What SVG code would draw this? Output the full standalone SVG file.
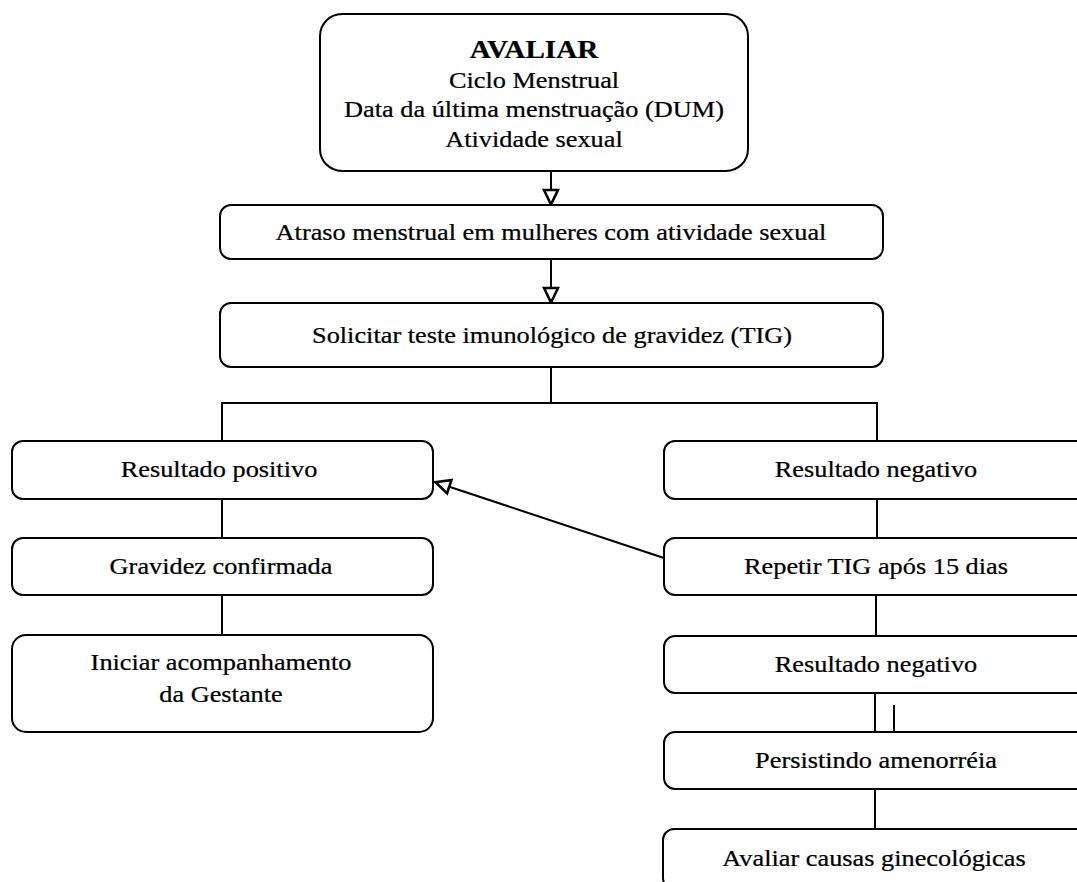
<svg xmlns="http://www.w3.org/2000/svg" width="1077" height="882" viewBox="0 0 1077 882">
<style>
.box{fill:#fff;stroke:#000;stroke-width:2}
.t{font-family:"Liberation Serif","Times New Roman",serif;font-size:23.5px;fill:#000;text-anchor:middle;stroke:#000;stroke-width:0.25}
.b{font-weight:bold;font-size:26px}
.c{fill:none;stroke:#000;stroke-width:2}
</style>
<defs>
<marker id="arr" viewBox="0 0 18 18" markerWidth="18" markerHeight="18" refX="17" refY="9" orient="auto" markerUnits="userSpaceOnUse">
<path d="M2,2 L16.5,9 L2,16 z" fill="#fff" stroke="#000" stroke-width="2.6" stroke-linejoin="miter"/>
</marker>
</defs>
<rect width="1077" height="882" fill="#fff"/>
<g id="connectors">
<line class="c" x1="551" y1="171" x2="551" y2="205" marker-end="url(#arr)"/>
<line class="c" x1="551" y1="259" x2="551" y2="303" marker-end="url(#arr)"/>
<polyline class="c" points="551,367 551,403"/>
<polyline class="c" points="222,441 222,403 877,403 877,441"/>
<line class="c" x1="222" y1="499" x2="222" y2="538"/>
<line class="c" x1="222" y1="595" x2="222" y2="635"/>
<line class="c" x1="877" y1="499" x2="877" y2="538"/>
<line class="c" x1="876" y1="595" x2="876" y2="636"/>
<line class="c" x1="875" y1="693" x2="875" y2="732"/>
<line class="c" x1="894" y1="705" x2="894" y2="732"/>
<line class="c" x1="875" y1="789" x2="875" y2="829"/>
<line class="c" x1="664" y1="558" x2="435" y2="482" marker-end="url(#arr)"/>
</g>
<g id="n-avaliar">
<rect class="box" x="320" y="14" width="428" height="157" rx="22"/>
<text class="t b" transform="translate(534 58) scale(1.12 1)">AVALIAR</text>
<text class="t" transform="translate(534 88) scale(1.12 1)">Ciclo Menstrual</text>
<text class="t" transform="translate(534 117) scale(1.12 1)">Data da última menstruação (DUM)</text>
<text class="t" transform="translate(534 147) scale(1.12 1)">Atividade sexual</text>
</g>
<g id="n-atraso">
<rect class="box" x="220" y="205" width="663" height="54" rx="11"/>
<text class="t" transform="translate(551 240) scale(1.12 1)">Atraso menstrual em mulheres com atividade sexual</text>
</g>
<g id="n-solicitar">
<rect class="box" x="220" y="303" width="663" height="64" rx="11"/>
<text class="t" transform="translate(552 343) scale(1.12 1)">Solicitar teste imunológico de gravidez (TIG)</text>
</g>
<g id="n-positivo">
<rect class="box" x="12" y="441" width="421" height="58" rx="11"/>
<text class="t" transform="translate(219 477) scale(1.12 1)">Resultado positivo</text>
</g>
<g id="n-gravidez">
<rect class="box" x="12" y="538" width="421" height="57" rx="11"/>
<text class="t" transform="translate(221 574) scale(1.12 1)">Gravidez confirmada</text>
</g>
<g id="n-iniciar">
<rect class="box" x="12" y="635" width="421" height="97" rx="14"/>
<text class="t" transform="translate(221 670) scale(1.12 1)">Iniciar acompanhamento</text>
<text class="t" transform="translate(221 702) scale(1.12 1)">da Gestante</text>
</g>
<g id="n-negativo1">
<rect class="box" x="664" y="441" width="425" height="58" rx="11"/>
<text class="t" transform="translate(876 477) scale(1.12 1)">Resultado negativo</text>
</g>
<g id="n-repetir">
<rect class="box" x="664" y="538" width="425" height="57" rx="11"/>
<text class="t" transform="translate(876 574) scale(1.12 1)">Repetir TIG após 15 dias</text>
</g>
<g id="n-negativo2">
<rect class="box" x="664" y="636" width="425" height="57" rx="11"/>
<text class="t" transform="translate(876 672) scale(1.12 1)">Resultado negativo</text>
</g>
<g id="n-persistindo">
<rect class="box" x="664" y="732" width="425" height="57" rx="11"/>
<text class="t" transform="translate(876 768) scale(1.12 1)">Persistindo amenorréia</text>
</g>
<g id="n-causas">
<rect class="box" x="663" y="829" width="426" height="60" rx="11"/>
<text class="t" transform="translate(874 866) scale(1.12 1)">Avaliar causas ginecológicas</text>
</g>
</svg>
